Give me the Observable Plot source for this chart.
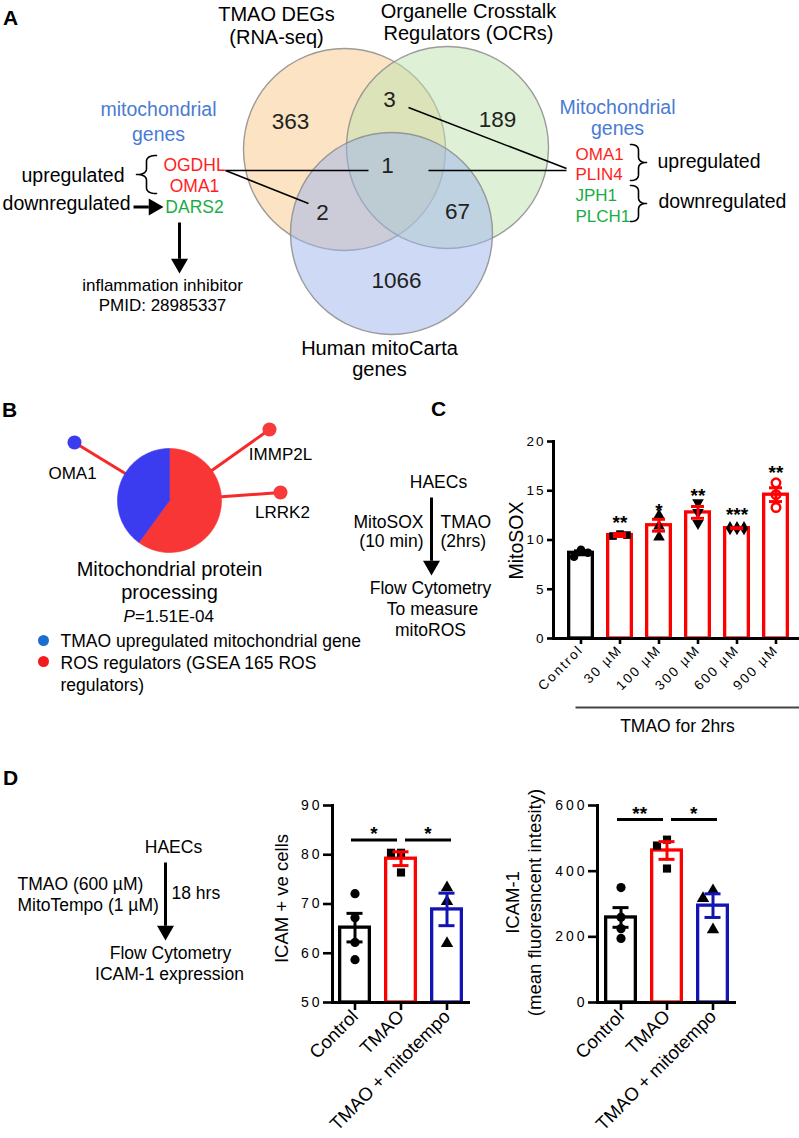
<!DOCTYPE html>
<html>
<head>
<meta charset="utf-8">
<script src="https://cdn.jsdelivr.net/npm/d3@7"></script>
<script src="https://cdn.jsdelivr.net/npm/@observablehq/plot@0.6"></script>
<style>
  html, body { margin: 0; padding: 0; background: #fff; overflow: hidden; }
  #fig { position: relative; width: 799px; height: 1138px; overflow: hidden; background: #fff; }
  #fig > svg { position: absolute; left: 0; top: 0; }
  .sp2 g[aria-label="y-axis tick label"], .sp2 g[aria-label="x-axis tick label"] { letter-spacing: 2px; }
  .sp3 g[aria-label="y-axis tick label"] { letter-spacing: 3px; }
</style>
</head>
<body>
<div id="fig"></div>
<script>
const FONT = '"Liberation Sans", Arial, Helvetica, sans-serif';

// ================= DATA =================
// Panel A – Venn diagram
const vennTitles = [["TMAO DEGs", "(RNA-seq)"], ["Organelle Crosstalk", "Regulators (OCRs)"], ["Human mitoCarta", "genes"]];
const vennRegions = ["TMAO only", "TMAO ∩ OCR", "OCR only", "all three", "TMAO ∩ mito", "OCR ∩ mito", "mito only"];
const vennCounts = [363, 3, 189, 1, 2, 67, 1066];
const leftUpGenes = ["OGDHL", "OMA1"];
const leftDownGenes = ["DARS2"];
const rightUpGenes = ["OMA1", "PLIN4"];
const rightDownGenes = ["JPH1", "PLCH1"];

// Panel B – pie node
const pieGroups = ["ROS regulators", "TMAO upregulated mitochondrial gene"];
const pieShares = [60, 40];
const pieNodes = ["OMA1", "IMMP2L", "LRRK2"];
const pieNodeGroup = [1, 0, 0];
const pieTerm = ["Mitochondrial protein", "processing"];
const piePValue = "1.51E-04";
const legendLines = ["TMAO upregulated mitochondrial gene", "ROS regulators (GSEA 165 ROS", "regulators)"];

// Panel C – MitoSOX
const cGroups = ["Control", "30 µM", "100 µM", "300 µM", "600 µM", "900 µM"];
const cMeans = [8.7, 10.5, 11.5, 12.8, 11.2, 14.6];
const cSem = [0.2, 0.15, 0.6, 0.6, 0.05, 0.7];
const cPoints = [[9.0, 8.3, 8.7], [10.6, 10.4, 10.5], [12.5, 10.3, 11.4], [13.8, 11.7, 12.8], [11.2, 11.2, 11.2], [15.8, 13.3, 14.6]];
const cStars = ["", "**", "*", "**", "***", "**"];
const cStarY = [null, 11.7, 13.0, 14.5, 12.5, 16.8];
const cTicks = [0, 5, 10, 15, 20];

// Panel D – ICAM-1
const dGroups = ["Control", "TMAO", "TMAO + mitotempo"];
const d1Means = [65.2, 79.2, 68.9];
const d1Sem = [2.9, 1.4, 3.3];
const d1Points = [[72.1, 67.2, 62.2, 58.7], [80.4, 80.4, 76.4], [73.3, 70.5, 62.0]];
const d1Ticks = [50, 60, 70, 80, 90];
const d1Sig = ["*", "*"];
const d1SigY = 83;
const d2Means = [259, 463, 295];
const d2Sem = [30, 27, 36];
const d2Points = [[350, 260, 225, 195], [496, 478, 408], [341, 317, 222]];
const d2Ticks = [0, 200, 400, 600];
const d2Sig = ["**", "*"];
const d2SigY = 557;

// ================= STYLE / LAYOUT =================
const RED = "#ff1e1e", GREEN = "#19ad45", BLUE = "#4a7bd3";
const PIE_COLORS = ["#f93636", "#3b3bef"];
const NODE_COLORS = ["#f93a3a", "#3b3bef"];
const L = {
  vennCenters: [[344, 149], [447, 147], [391, 233]],
  vennR: 101,
  vennFills: ["#f7c787", "#bde3ad", "#9db4ee"],
  vennTitlePos: [[276, 20, 43], [468, 17, 39], [379, 354, 375]],
  vennCountPos: [[290, 121], [389, 99], [497, 119], [387, 165], [322, 212], [457, 211], [396, 280]],
  vennLinks: [[225, 170, 368, 170], [225, 170, 308, 203], [408, 107, 566, 168], [428, 170, 566, 170]],
  arrows: [[133, 206.5, 163, 206.5], [179, 222, 179, 273], [431, 497, 431, 575], [165, 862, 165, 940]],
  pieC: [169, 500], pieR: 52,
  pieNodePos: [[74, 442], [269, 429], [280, 492]],
  pieNodeLabel: [[72, 478], [280, 459], [282, 517]]
};
const fig = document.getElementById("fig");

function T(rows, o = {}) {
  return Plot.text(rows, {
    x: d => d[1], y: d => d[2], text: d => d[0],
    textAnchor: o.anchor ?? "middle", lineAnchor: o.line ?? "bottom",
    fill: o.fill ?? "#000", fontSize: o.size ?? 17.5,
    fontWeight: o.weight, fontStyle: o.italic ? "italic" : undefined,
    rotate: o.rotate
  });
}
function brace(x0, y0, y1, w, id) {
  const ym = (y0 + y1) / 2, q = Math.min(6, (y1 - y0) / 4), h = w / 2, pts = [];
  const quad = (p0, p1, p2) => {
    for (let k = 0; k <= 10; k++) {
      const t = k / 10, a = (1 - t) * (1 - t), b = 2 * (1 - t) * t, c = t * t;
      pts.push({id, x: a * p0[0] + b * p1[0] + c * p2[0], y: a * p0[1] + b * p1[1] + c * p2[1]});
    }
  };
  quad([x0 + h, y0], [x0, y0], [x0, y0 + q]);
  quad([x0, ym - q], [x0, ym], [x0 - h, ym]);
  quad([x0 - h, ym], [x0, ym], [x0, ym + q]);
  quad([x0, y1 - q], [x0, y1], [x0 + h, y1]);
  return pts;
}

// ================= OVERLAY (diagrams, annotations) =================
const M = [];
// Venn
const vennCircleData = vennTitles.map((t, i) => ({name: t.join(" "), x: L.vennCenters[i][0], y: L.vennCenters[i][1], fill: L.vennFills[i]}));
M.push(Plot.dot(vennCircleData, {x: "x", y: "y", r: L.vennR, fill: "fill", fillOpacity: 0.5, stroke: "#8c8c8c", strokeOpacity: 0.85, strokeWidth: 1.4}));
M.push(T(vennTitles.flatMap((t, i) => [[t[0], L.vennTitlePos[i][0], L.vennTitlePos[i][1]], [t[1], L.vennTitlePos[i][0], L.vennTitlePos[i][2]]]), {size: 20}));
M.push(T(vennCounts.map((c, i) => [String(c), L.vennCountPos[i][0], L.vennCountPos[i][1]]), {size: 22.5, line: "middle", fill: "#222"}));
M.push(Plot.link(L.vennLinks, {x1: d => d[0], y1: d => d[1], x2: d => d[2], y2: d => d[3], stroke: "#000", strokeWidth: 1.5}));
M.push(Plot.line([...brace(146, 155, 193, 20, "l"), ...brace(638, 144, 180, -16, "r1"), ...brace(638, 185, 221, -16, "r2")],
  {x: "x", y: "y", z: "id", stroke: "#000", strokeWidth: 1.6, curve: "linear"}));
// left annotation
M.push(T([["mitochondrial", 158, 115], ["genes", 158, 140]], {size: 19.5, fill: BLUE}));
M.push(T([["upregulated", 124, 181], ["downregulated", 130, 209]], {size: 19.5, anchor: "end"}));
M.push(T(leftUpGenes.map((g, i) => [g, 194, [170, 191][i]]), {size: 17.5, fill: RED}));
M.push(T(leftDownGenes.map(g => [g, 194, 212]), {size: 17.5, fill: GREEN}));
M.push(T([["inflammation inhibitor", 162, 290], ["PMID: 28985337", 162, 310]], {size: 17}));
// right annotation
M.push(T([["Mitochondrial", 617, 113], ["genes", 617, 134]], {size: 19.5, fill: BLUE}));
M.push(T(rightUpGenes.map((g, i) => [g, 575, [159, 179][i]]), {size: 17, anchor: "start", fill: RED}));
M.push(T(rightDownGenes.map((g, i) => [g, 575, [200, 221][i]]), {size: 17, anchor: "start", fill: GREEN}));
M.push(T([["upregulated", 657, 167], ["downregulated", 658, 207]], {size: 19.5, anchor: "start"}));

// Panel B
const [pcx, pcy] = L.pieC;
M.push(Plot.link(pieNodes.map((n, i) => ({n, x: L.pieNodePos[i][0], y: L.pieNodePos[i][1]})),
  {x1: "x", y1: "y", x2: () => pcx, y2: () => pcy, stroke: "#f52a2a", strokeWidth: 3}));
d3.pie().sort(null)(pieShares).forEach((a, i) => {
  const pts = [{x: pcx, y: pcy}];
  for (let k = 0; k <= 80; k++) {
    const ang = a.startAngle + (a.endAngle - a.startAngle) * k / 80;
    pts.push({x: pcx + L.pieR * Math.sin(ang), y: pcy - L.pieR * Math.cos(ang)});
  }
  pts.push({x: pcx, y: pcy});
  M.push(Plot.line(pts, {x: "x", y: "y", fill: PIE_COLORS[i], stroke: PIE_COLORS[i], strokeWidth: 0.6, curve: "linear-closed"}));
});
M.push(Plot.dot(pieNodes.map((n, i) => ({n, x: L.pieNodePos[i][0], y: L.pieNodePos[i][1], c: NODE_COLORS[pieNodeGroup[i]]})),
  {x: "x", y: "y", r: 7, fill: "c"}));
M.push(T(pieNodes.map((n, i) => [n, L.pieNodeLabel[i][0], L.pieNodeLabel[i][1]]), {size: 17}));
M.push(T([[pieTerm[0], 169, 575], [pieTerm[1], 169, 598]], {size: 20}));
M.push(T([["P", 123, 621]], {size: 17, anchor: "start", italic: true}));
M.push(T([["=" + piePValue, 134.5, 621]], {size: 17, anchor: "start"}));
M.push(Plot.dot([{x: 43, y: 640, c: "#1c6dd0"}, {x: 43, y: 661, c: "#f21c1c"}], {x: "x", y: "y", r: 5.5, fill: "c"}));
M.push(T(legendLines.map((t, i) => [t, 60, [646, 668, 690][i]]), {size: 17.5, anchor: "start"}));

// Panel C flow
M.push(T([["HAECs", 438, 487], ["Flow Cytometry", 430, 593], ["To measure", 432, 614], ["mitoROS", 430, 635]], {size: 17.5}));
M.push(T([["MitoSOX", 423, 527], ["(10 min)", 423, 546]], {size: 17.5, anchor: "end"}));
M.push(T([["TMAO", 440, 527], ["(2hrs)", 440, 546]], {size: 17.5, anchor: "start"}));
M.push(Plot.link([[575, 707, 799, 707]], {x1: d => d[0], y1: d => d[1], x2: d => d[2], y2: d => d[3], stroke: "#444", strokeWidth: 2}));
M.push(T([["TMAO for 2hrs", 677, 731]], {size: 17.5}));
M.push(T([["MitoSOX", 516, 540]], {size: 19.5, rotate: -90, line: "middle"}));

// Panel D flow
M.push(T([["HAECs", 173, 852], ["Flow Cytometry", 170, 958], ["ICAM-1 expression", 169, 979]], {size: 17.5}));
M.push(T([["TMAO (600 µM)", 17, 889], ["MitoTempo (1 µM)", 17, 910], ["18 hrs", 171, 898]], {size: 17.5, anchor: "start"}));
M.push(T([["ICAM + ve cells", 282, 898], ["ICAM-1", 513, 902], ["(mean fluoresncent intesity)", 535, 902]], {size: 18.5, rotate: -90, line: "middle"}));

// arrows
const HEAD = 17, HH = HEAD * Math.sqrt(3) / 2, HR = Math.sqrt((Math.sqrt(3) / 4) * HEAD * HEAD / Math.PI);
const arrowData = L.arrows.map(([x1, y1, x2, y2]) => {
  const len = Math.hypot(x2 - x1, y2 - y1), ux = (x2 - x1) / len, uy = (y2 - y1) / len;
  return {x1, y1, bx: x2 - ux * HH, by: y2 - uy * HH, hx: x2 - ux * HH * 2 / 3, hy: y2 - uy * HH * 2 / 3,
          rot: Math.atan2(ux, -uy) * 180 / Math.PI};
});
M.push(Plot.link(arrowData, {x1: "x1", y1: "y1", x2: "bx", y2: "by", stroke: "#000", strokeWidth: 3}));
M.push(Plot.dot(arrowData, {x: "hx", y: "hy", symbol: "triangle", r: HR, rotate: "rot", fill: "#000", stroke: "none"}));

// panel letters
M.push(T([["A", 10, 17.5], ["B", 9, 410], ["C", 438, 409], ["D", 10, 777.5]], {size: 21, weight: "bold", line: "middle"}));

fig.appendChild(Plot.plot({
  width: 799, height: 1138, margin: 0,
  x: {type: "identity", axis: null}, y: {type: "identity", axis: null}, color: {type: "identity"},
  style: {background: "transparent", maxWidth: "none", fontFamily: FONT, color: "#000"},
  marks: M
}));

// ================= BAR CHARTS =================
function dodge(vals, ppu, step, minDist) {
  const placed = [];
  return vals.map(v => {
    const py = v * ppu;
    for (const o of [0, -step, step, -2 * step, 2 * step]) {
      if (placed.every(p => Math.hypot(p.o - o, p.py - py) >= minDist)) { placed.push({o, py}); return o; }
    }
    placed.push({o: 0, py}); return 0;
  });
}
function barChart(c) {
  const bars = c.groups.map((g, i) => ({g, mean: c.means[i], lo: c.means[i] - c.sem[i], hi: c.means[i] + c.sem[i], color: c.colors[i]}));
  const ppu = (c.bottom - c.top) / (c.yDomain[1] - c.yDomain[0]);
  const pts = [];
  c.groups.forEach((g, i) => {
    const offs = dodge(c.points[i], ppu, c.step, c.minDist);
    c.points[i].forEach((v, j) => pts.push({g, v, off: offs[j], sym: c.sym[i], rot: c.rot[i], fill: c.ptFill[i], stroke: c.ptStroke[i]}));
  });
  const offs = [...new Set(pts.map(p => p.off))];
  const marks = [
    Plot.barY(bars, {x: "g", y1: () => c.yDomain[0], y2: "mean", fill: "none", stroke: "color", strokeWidth: c.barW, insetLeft: c.barW / 2, insetRight: c.barW / 2}),
    ...offs.map(o => Plot.dot(pts.filter(p => p.off === o), {x: "g", y: "v", dx: o, symbol: "sym", rotate: "rot", fill: "fill", stroke: "stroke", strokeWidth: 2.4, r: c.r})),
    Plot.ruleX(bars, {x: "g", y1: "lo", y2: "hi", stroke: "color", strokeWidth: c.errW}),
    Plot.tickY(bars, {x: "g", y: "hi", stroke: "color", strokeWidth: c.errW, insetLeft: c.capInset, insetRight: c.capInset}),
    Plot.tickY(bars, {x: "g", y: "lo", stroke: "color", strokeWidth: c.errW, insetLeft: c.capInset, insetRight: c.capInset}),
    Plot.axisY({ticks: c.yTicks, tickSize: c.yTickSize, tickPadding: c.yPad, fontSize: c.yFont, strokeWidth: 2.6, label: null}),
    Plot.axisX({tickSize: c.xTickSize, tickPadding: c.xPad, tickRotate: -45, fontSize: c.xFont, strokeWidth: 2.6, label: null}),
    Plot.ruleY([c.yDomain[0]], {strokeWidth: 3}),
    Plot.frame({anchor: "left", strokeWidth: 3}),
    ...(c.extra || [])
  ];
  return Plot.plot({
    width: c.width, height: 1138,
    marginLeft: c.left, marginRight: c.width - c.right, marginTop: c.top, marginBottom: 1138 - c.bottom,
    className: c.cls,
    x: {domain: c.groups, paddingInner: c.padIn, paddingOuter: c.padOut, label: null},
    y: {domain: c.yDomain, label: null},
    color: {type: "identity"},
    style: {background: "transparent", maxWidth: "none", fontFamily: FONT, color: "#000"},
    marks
  });
}

// Panel C chart
const cStarData = cGroups.map((g, i) => ({g, s: cStars[i], y: cStarY[i]})).filter(d => d.s);
fig.appendChild(barChart({
  groups: cGroups, means: cMeans, sem: cSem, points: cPoints,
  colors: ["#000", "#ff0000", "#ff0000", "#ff0000", "#ff0000", "#ff0000"],
  sym: ["circle", "square", "triangle", "triangle", "diamond", "circle"],
  rot: [0, 0, 0, 180, 0, 0],
  ptFill: ["#000", "#000", "#000", "#000", "#000", "none"],
  ptStroke: ["none", "none", "none", "none", "none", "#ff0000"],
  yDomain: [0, 20], yTicks: cTicks,
  left: 553, right: 803, top: 441, bottom: 638, width: 803,
  padIn: 0.3, padOut: 0.3, capInset: 7, step: 7, minDist: 7, r: 4.3,
  cls: "sp2", yFont: 13.5, xFont: 13.5, yTickSize: 6, xTickSize: 6, yPad: 2, xPad: 3, barW: 3.3, errW: 3,
  extra: [Plot.text(cStarData, {x: "g", y: "y", text: "s", fontSize: 19, fontWeight: "bold", lineAnchor: "middle"})]
}));

// Panel D charts
function sigMarks(labels, yv, step) {
  const data = [{from: dGroups[0], to: dGroups[1], s: labels[0], dx: -4}, {from: dGroups[1], to: dGroups[2], s: labels[1], dx: 4}];
  return data.flatMap(d => [
    Plot.link([d], {x1: "from", x2: "to", y1: () => yv, y2: () => yv, stroke: "#000", strokeWidth: 3, dx: d.dx}),
    Plot.text([d], {x: "to", y: () => yv, text: "s", dx: -step / 2 + d.dx, dy: 0, fontSize: 19, fontWeight: "bold", lineAnchor: "bottom"})
  ]);
}
const dCommon = {
  groups: dGroups, colors: ["#000", "#ff0000", "#1414b4"],
  sym: ["circle", "square", "triangle"], rot: [0, 0, 0],
  ptFill: ["#000", "#000", "#000"], ptStroke: ["none", "none", "none"],
  top: 805, bottom: 1002, width: 799, padIn: 0.28, padOut: 0.14, capInset: 8.5, step: 10, minDist: 9, r: 4.6,
  cls: "sp3", yFont: 14, xFont: 18.5, yTickSize: 9, xTickSize: 8, yPad: 1, xPad: 3, barW: 3.3, errW: 3
};
fig.appendChild(barChart({...dCommon, means: d1Means, sem: d1Sem, points: d1Points, yDomain: [50, 90], yTicks: d1Ticks,
  left: 332, right: 470, extra: sigMarks(d1Sig, d1SigY, 46)}));
fig.appendChild(barChart({...dCommon, means: d2Means, sem: d2Sem, points: d2Points, yDomain: [0, 600], yTicks: d2Ticks,
  left: 597, right: 736, extra: sigMarks(d2Sig, d2SigY, 46.5)}));
</script>
</body>
</html>
